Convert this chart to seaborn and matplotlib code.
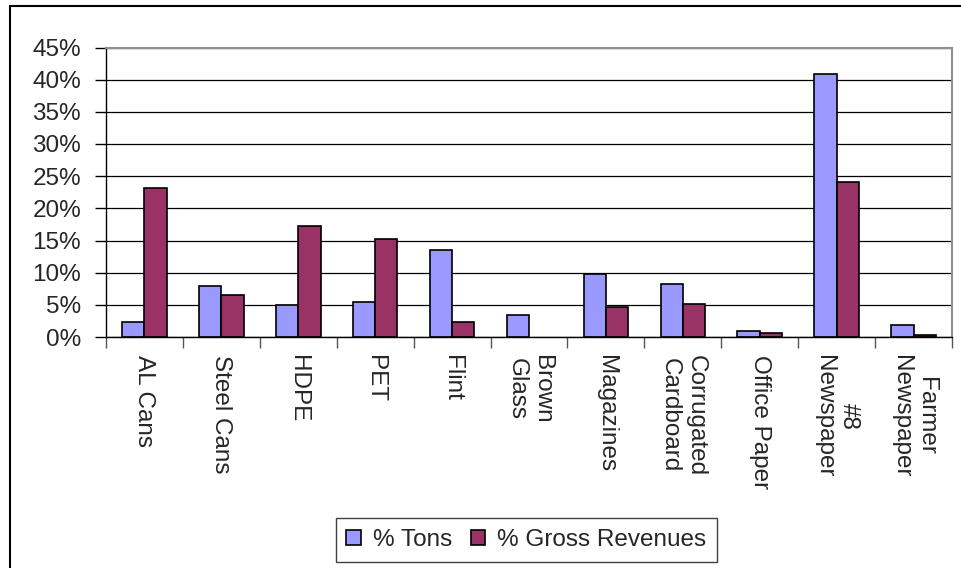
import matplotlib
matplotlib.use("Agg")
import matplotlib.pyplot as plt
import seaborn as sns
import pandas as pd
from matplotlib.ticker import FuncFormatter, FixedLocator
from matplotlib.patches import Rectangle

categories = ["AL Cans", "Steel Cans", "HDPE", "PET", "Flint", "Brown\nGlass",
              "Magazines", "Corrugated\nCardboard", "Office Paper",
              "#8\nNewspaper", "Farmer\nNewspaper"]
pct_tons = [2.4, 8.0, 4.9, 5.5, 13.6, 3.4, 9.8, 8.3, 0.9, 40.9, 1.8]
pct_revenues = [23.2, 6.5, 17.3, 15.2, 2.4, 0.0, 4.6, 5.2, 0.6, 24.1, 0.3]
series_names = ["% Tons", "% Gross Revenues"]
colors = ["#9999FF", "#993366"]

df = pd.DataFrame({
    "Material": categories * 2,
    "Share": pct_tons + pct_revenues,
    "Series": [series_names[0]] * len(categories) + [series_names[1]] * len(categories),
})

sns.set_style("white")
plt.rcParams["font.family"] = ["Liberation Sans", "DejaVu Sans"]

fig = plt.figure(figsize=(9.61, 5.68), dpi=100)
ax = fig.add_axes([106 / 961, 1 - 337 / 568, (952 - 106) / 961, (337 - 47.5) / 568])

sns.barplot(data=df, x="Material", y="Share", hue="Series", palette=colors,
            width=0.58, edgecolor="black", linewidth=1.2, saturation=1,
            ax=ax, legend=True)

for p in ax.patches:
    if p.get_height() == 0:
        p.set_linewidth(0)

ax.set_ylim(0, 45)
ax.set_xlim(-0.5, len(categories) - 0.5)
ax.set_yticks(range(0, 46, 5))
ax.yaxis.set_major_formatter(FuncFormatter(lambda v, p: f"{int(round(v))}%"))
ax.grid(axis="y", color="black", linewidth=0.9)
ax.set_axisbelow(True)
ax.set_xlabel("")
ax.set_ylabel("")

for s in ["left", "bottom"]:
    ax.spines[s].set_color("black")
    ax.spines[s].set_linewidth(1.0)
for s in ["top", "right"]:
    ax.spines[s].set_color("#909090")
    ax.spines[s].set_linewidth(1.5)
    ax.spines[s].set_visible(True)

ax.tick_params(axis="y", which="major", direction="out", length=8, width=1.0,
               color="black", labelsize=17.5, pad=10, left=True)
ax.xaxis.set_minor_locator(FixedLocator([i - 0.5 for i in range(len(categories) + 1)]))
ax.tick_params(axis="x", which="minor", direction="out", length=8, width=1.0,
               color="#555555", bottom=True)
ax.tick_params(axis="x", which="major", length=0, labelsize=17.5, pad=13)
for lbl in ax.get_xticklabels():
    lbl.set_rotation(270)
    lbl.set_ha("center")
    lbl.set_va("top")
    lbl.set_multialignment("center")

ax.get_legend().remove()
handles = [Rectangle((0, 0), 1, 1, facecolor=c, edgecolor="black", linewidth=1.2) for c in colors]
leg = fig.legend(handles, series_names, loc="center", bbox_to_anchor=(526.5 / 961, 1 - 540 / 568),
                 ncol=2, fontsize=17.5, frameon=True, fancybox=False, framealpha=1,
                 edgecolor="#404040", handlelength=0.6, handleheight=0.55,
                 handletextpad=0.5, columnspacing=0.75, borderpad=0.45)
leg.get_frame().set_linewidth(1.0)

# outer chart border (extends beyond right/bottom edges like the reference)
fig.patches.append(Rectangle((10 / 961, -0.05), 1.1, 1 - 6 / 568 + 0.05,
                             transform=fig.transFigure, fill=False,
                             edgecolor="black", linewidth=1.5))

fig.savefig("out.png", dpi=100)
